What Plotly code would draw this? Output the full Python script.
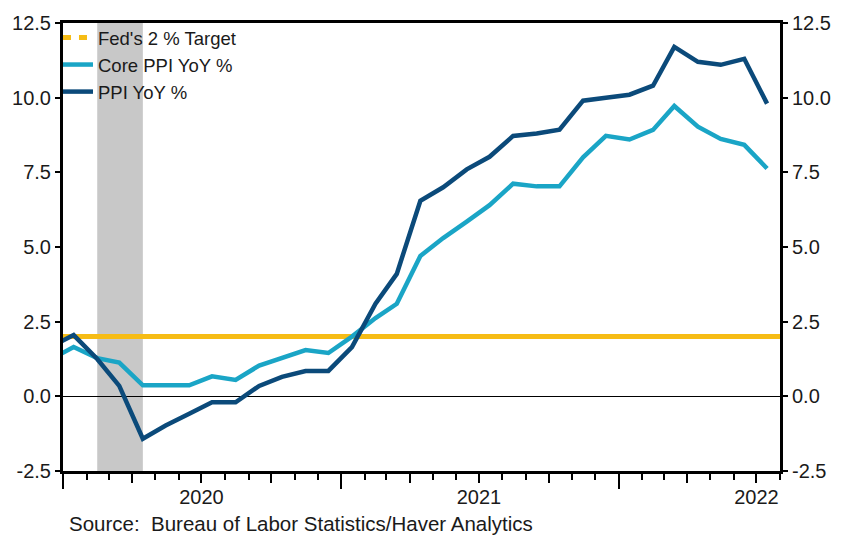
import plotly.graph_objects as go

# ---------------- data ----------------
months = ["2019-12", "2020-01", "2020-02", "2020-03", "2020-04", "2020-05", "2020-06",
          "2020-07", "2020-08", "2020-09", "2020-10", "2020-11", "2020-12",
          "2021-01", "2021-02", "2021-03", "2021-04", "2021-05", "2021-06",
          "2021-07", "2021-08", "2021-09", "2021-10", "2021-11", "2021-12",
          "2022-01", "2022-02", "2022-03", "2022-04", "2022-05", "2022-06", "2022-07"]

ppi_yoy = [1.65, 2.05, 1.25, 0.35, -1.42, -0.98, -0.58, -0.20, -0.20, 0.35, 0.65, 0.85, 0.85,
           1.65, 3.10, 4.10, 6.55, 7.00, 7.60, 8.02, 8.72, 8.80, 8.93, 9.90, 10.00,
           10.10, 10.40, 11.70, 11.20, 11.10, 11.30, 9.80]

core_ppi_yoy = [1.23, 1.65, 1.28, 1.13, 0.37, 0.37, 0.37, 0.67, 0.55, 1.03, 1.27, 1.55, 1.45,
                2.00, 2.62, 3.10, 4.70, 5.30, 5.85, 6.40, 7.12, 7.03, 7.03, 8.00, 8.72,
                8.60, 8.92, 9.72, 9.03, 8.62, 8.42, 7.63]

fed_target = 2.0

series_names = ["Fed's 2 % Target", "Core PPI YoY %", "PPI YoY %"]
year_labels = ["2020", "2021", "2022"]
y_ticks = [-2.5, 0.0, 2.5, 5.0, 7.5, 10.0, 12.5]

recession = ("2020-02-15", "2020-04-15")
x_start, x_end = "2020-01-01", "2022-08-01"

# monthly observations plotted at mid-month
dates = [m + "-15" for m in months]

# ---------------- style ----------------
NAVY = "#0B4A7A"
CYAN = "#1AA5C6"
GOLD = "#F6BC15"
GRAY = "#C8C8C8"
FONT = "Liberation Sans, Arial, sans-serif"
TXT = "#1a1a1a"

fig = go.Figure()

# target line (solid in plot)
fig.add_trace(go.Scatter(x=[x_start, x_end], y=[fed_target, fed_target], mode="lines",
                         line=dict(color=GOLD, width=5), showlegend=False, hoverinfo="skip"))
# legend entry for the target (dashed)
fig.add_trace(go.Scatter(x=[None], y=[None], mode="lines", name=series_names[0],
                         line=dict(color=GOLD, width=5, dash="8px,8px"), legendrank=1))
fig.add_trace(go.Scatter(x=dates, y=core_ppi_yoy, mode="lines", name=series_names[1],
                         line=dict(color=CYAN, width=4.5), legendrank=2))
fig.add_trace(go.Scatter(x=dates, y=ppi_yoy, mode="lines", name=series_names[2],
                         line=dict(color=NAVY, width=4.5), legendrank=3))
# helpers so overlay axes render
fig.add_trace(go.Scatter(x=[x_start], y=[None], xaxis="x2", showlegend=False, hoverinfo="skip"))
fig.add_trace(go.Scatter(x=[x_start], y=[None], yaxis="y2", showlegend=False, hoverinfo="skip"))

fig.add_shape(type="rect", xref="x", yref="paper", x0=recession[0], x1=recession[1],
              y0=0, y1=1, fillcolor=GRAY, line=dict(width=0), layer="below")

label_pos = [y + "-07-01" for y in year_labels]
year_starts = [y + "-01-01" for y in year_labels]
quarters = [y + q for y in year_labels for q in ("-04-01", "-07-01", "-10-01")]
quarters = [q for q in quarters if q <= x_end]

yaxis_common = dict(range=[-2.5, 12.5], tickmode="array", tickvals=y_ticks,
                    ticktext=[f"{v:.1f}" for v in y_ticks], ticks="outside", ticklen=5,
                    tickwidth=1.5, tickcolor="black", showgrid=False,
                    showline=True, linewidth=3, linecolor="black",
                    tickfont=dict(family=FONT, size=20, color=TXT))

fig.update_layout(
    width=848, height=537,
    margin=dict(l=62, r=68, t=19, b=66),
    paper_bgcolor="white", plot_bgcolor="white",
    showlegend=True,
    legend=dict(x=-0.007, y=1.009, xanchor="left", yanchor="top", bgcolor="rgba(0,0,0,0)",
                font=dict(family=FONT, size=18.5, color=TXT), traceorder="normal",
                itemwidth=30, tracegroupgap=0),
    xaxis=dict(type="date", range=[x_start, x_end], showgrid=False,
               showline=True, linewidth=3, linecolor="black", mirror=True,
               tickmode="array", tickvals=label_pos, ticktext=year_labels,
               ticks="outside", ticklen=6, tickcolor="rgba(0,0,0,0)",
               tickfont=dict(family=FONT, size=20, color=TXT),
               minor=dict(ticks="outside", dtick="M1", tick0=x_start, ticklen=6,
                          tickwidth=1.5, tickcolor="black", showgrid=False),
               zeroline=False),
    xaxis2=dict(type="date", range=[x_start, x_end], overlaying="x", anchor="y",
                showgrid=False, showline=False, showticklabels=False,
                tickmode="array", tickvals=year_starts, ticks="outside", ticklen=17,
                tickwidth=1.5, tickcolor="black",
                minor=dict(ticks="outside", tickmode="array", tickvals=quarters,
                           ticklen=11, tickwidth=1.5, tickcolor="black", showgrid=False)),
    yaxis=dict(**yaxis_common, zeroline=True, zerolinecolor="black", zerolinewidth=1),
    yaxis2=dict(**yaxis_common, overlaying="y", side="right", zeroline=False),
    annotations=[dict(text="Source:  Bureau of Labor Statistics/Haver Analytics",
                      xref="paper", yref="paper", x=0.006, y=-0.118,
                      xanchor="left", yanchor="middle", showarrow=False,
                      font=dict(family=FONT, size=20.5, color=TXT))],
)

fig.write_html("out.html")
